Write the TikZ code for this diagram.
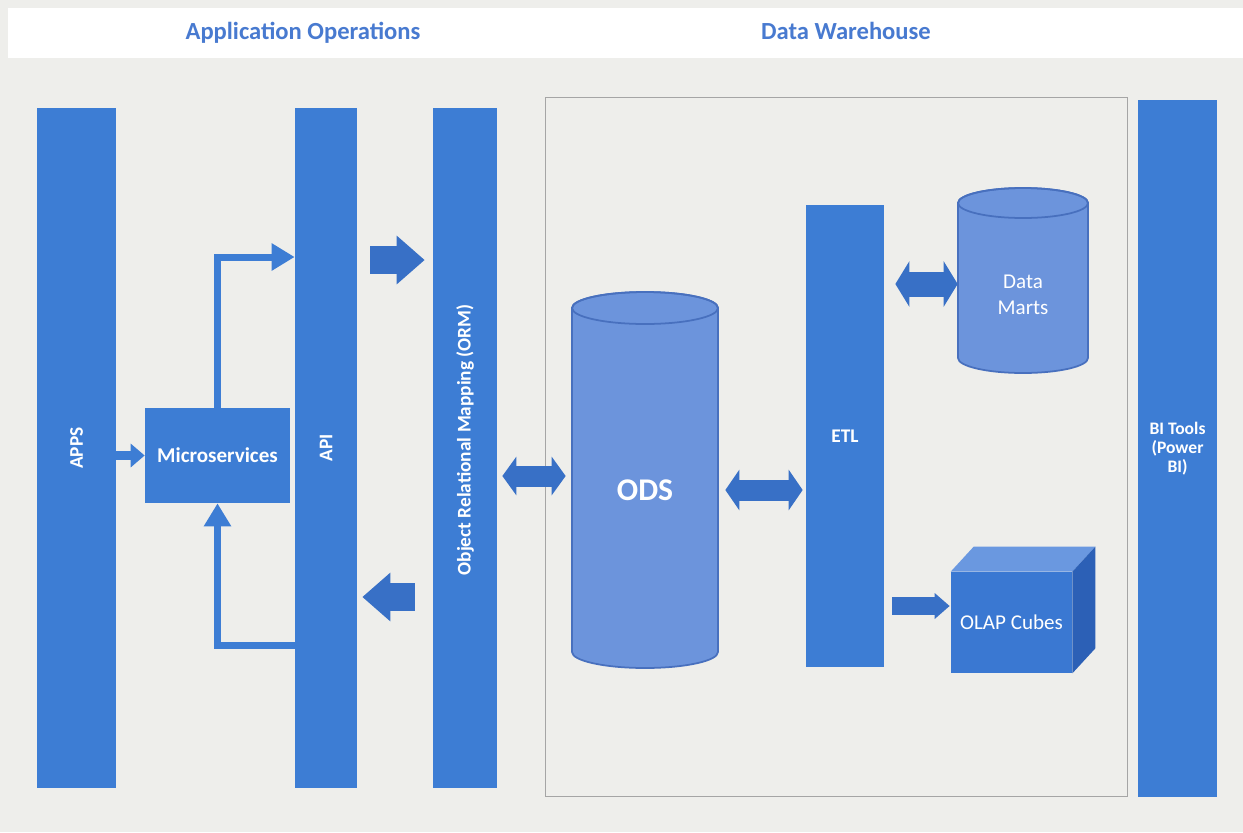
\documentclass[tikz,border=0pt]{standalone}
\usepackage{fontspec}
\setmainfont{Carlito}
\usepackage{xcolor}
\usetikzlibrary{arrows.meta}
\usetikzlibrary{positioning}
\usetikzlibrary{calc}

\definecolor{barblue}{RGB}{61,125,212}
\definecolor{arrowblue}{RGB}{56,112,198}
\definecolor{headblue}{RGB}{72,122,208}
\definecolor{dbfill}{RGB}{108,148,220}
\definecolor{dbline}{RGB}{72,112,190}
\definecolor{cubefront}{RGB}{58,120,210}
\definecolor{cubetop}{RGB}{106,152,224}
\definecolor{cubeside}{RGB}{44,96,182}
\definecolor{paper}{RGB}{238,238,235}
\definecolor{framegray}{RGB}{165,165,165}

\tikzset{
  bar/.style={fill=barblue, inner sep=0pt},
  bartext/.style={text=white, inner sep=0pt, font=\bfseries\fontsize{11}{13}\selectfont},
  header/.style={text=headblue, anchor=base, font=\bfseries\fontsize{14}{16}\selectfont},
  linkarrow/.style={draw=barblue, line width=0.14cm, -{Triangle[length=0.46cm,width=0.52cm]}},
  blockarrow/.style={draw=arrowblue, line width=0.56cm, -{Triangle[length=0.56cm,width=0.94cm]}},
  twoway/.style 2 args={draw=arrowblue, line width=#1,
    {Triangle[length=0.28cm,width=#2]}-{Triangle[length=0.28cm,width=#2]}},
}

\begin{document}
\begin{tikzpicture}[x=0.02cm, y=-0.02cm]
  % page and title band
  \fill[paper] (0,0) rectangle (1243,832);
  \useasboundingbox (0,0) rectangle (1243,832);
  \fill[white] (8,8) rectangle (1243,58);
  \node[header] (apptitle) at (303,39) {Application Operations};
  \node[header] (dwtitle) at (846,39) {Data Warehouse};

  % data warehouse frame
  \node[draw=framegray, line width=0.6pt, minimum width=11.66cm, minimum height=14cm] (dwframe) at (836.5,447) {};

  % vertical bars
  \node[bar, minimum width=1.58cm, minimum height=13.6cm] (apps) at (76.5,448) {};
  \node[bar, minimum width=1.24cm, minimum height=13.6cm] (api) at (326,448) {};
  \node[bar, minimum width=1.28cm, minimum height=13.6cm] (orm) at (465,448) {};
  \node[bar, minimum width=1.56cm, minimum height=9.24cm] (etl) at (845,436) {};
  \node[bar, minimum width=1.58cm, minimum height=13.94cm] (bitools) at (1177.5,448.5) {};
  \node[bartext, rotate=90] (appslabel) at (apps) {APPS};
  \node[bartext, rotate=90] (apilabel) at (api) {API};
  \node[bartext, rotate=90] (ormlabel) at (465,440) {Object Relational Mapping (ORM)};
  \node[bartext] (etllabel) at (etl) {ETL};
  \node[bartext, align=center, font=\bfseries\fontsize{10}{11}\selectfont] (bilabel) at (bitools) {BI Tools\\(Power\\BI)};

  % microservices box
  \node[bar, minimum width=2.9cm, minimum height=1.9cm, text=white,
    font=\bfseries\fontsize{12}{14}\selectfont] (micro) at (217.5,455.5) {Microservices};

  % ODS cylinder
  \filldraw[fill=dbfill, draw=dbline, line width=1pt] (572,308) -- (572,652)
    arc[start angle=180, end angle=360, x radius=1.46cm, y radius=0.32cm] -- (718,308)
    arc[start angle=0, end angle=180, x radius=1.46cm, y radius=0.32cm] -- cycle;
  \draw[dbline, line width=1pt] (645,308) ellipse [x radius=1.46cm, y radius=0.32cm];
  \node[text=white, minimum width=2.92cm, inner sep=0pt, font=\bfseries\fontsize{18}{20}\selectfont] (ods) at (645,490) {ODS};

  % data marts cylinder
  \filldraw[fill=dbfill, draw=dbline, line width=1pt] (958,203) -- (958,358)
    arc[start angle=180, end angle=360, x radius=1.3cm, y radius=0.3cm] -- (1088,203)
    arc[start angle=0, end angle=180, x radius=1.3cm, y radius=0.3cm] -- cycle;
  \draw[dbline, line width=1pt] (1023,203) ellipse [x radius=1.3cm, y radius=0.3cm];
  \node[text=white, minimum width=2.6cm, inner sep=0pt, align=center,
    font=\fontsize{12}{15}\selectfont] (marts) at (1023,295) {Data\\Marts};

  % OLAP cube
  \node[fill=cubefront, minimum width=2.42cm, minimum height=2.02cm, inner sep=0pt, text=white,
    font=\fontsize{12}{14}\selectfont] (olap) at (1011.5,622.5) {OLAP Cubes};
  \fill[cubetop] (olap.north west) -- ++(23,-25) -- ([shift={(23,-25)}]olap.north east) -- (olap.north east) -- cycle;
  \fill[cubeside] (olap.north east) -- ++(23,-25) -- ([shift={(23,-25)}]olap.south east) -- (olap.south east) -- cycle;

  % application side arrows
  \draw[draw=barblue, line width=0.18cm, -{Triangle[length=0.28cm,width=0.46cm]}] (apps.east |- micro) -- (micro.west);
  \draw[linkarrow] (micro.north) |- (api.west |- 0,257);
  \draw[linkarrow] (api.west |- 0,645) -| (micro.south);
  \draw[blockarrow, shorten <=0.26cm, shorten >=0.16cm] (api.east |- 0,260) -- (orm.west |- 0,260);
  \draw[blockarrow, shorten <=0.36cm, shorten >=0.1cm] (orm.west |- 0,597) -- (api.east |- 0,597);

  % warehouse arrows
  \draw[twoway={0.42cm}{0.76cm}, shorten <=0.1cm, shorten >=0.12cm] (orm.east |- 0,476) -- (ods.west |- 0,476);
  \draw[twoway={0.42cm}{0.8cm}, shorten <=0.14cm, shorten >=0.06cm] (ods.east |- 0,490) -- (etl.west |- 0,490);
  \draw[twoway={0.5cm}{0.9cm}, shorten <=0.22cm] (etl.east |- 0,284) -- (marts.west |- 0,284);
  \draw[draw=arrowblue, line width=0.36cm, -{Triangle[length=0.3cm,width=0.5cm]}, shorten <=0.16cm, shorten >=0.02cm]
    (etl.east |- 0,606) -- (olap.west |- 0,606);
\end{tikzpicture}
\end{document}
